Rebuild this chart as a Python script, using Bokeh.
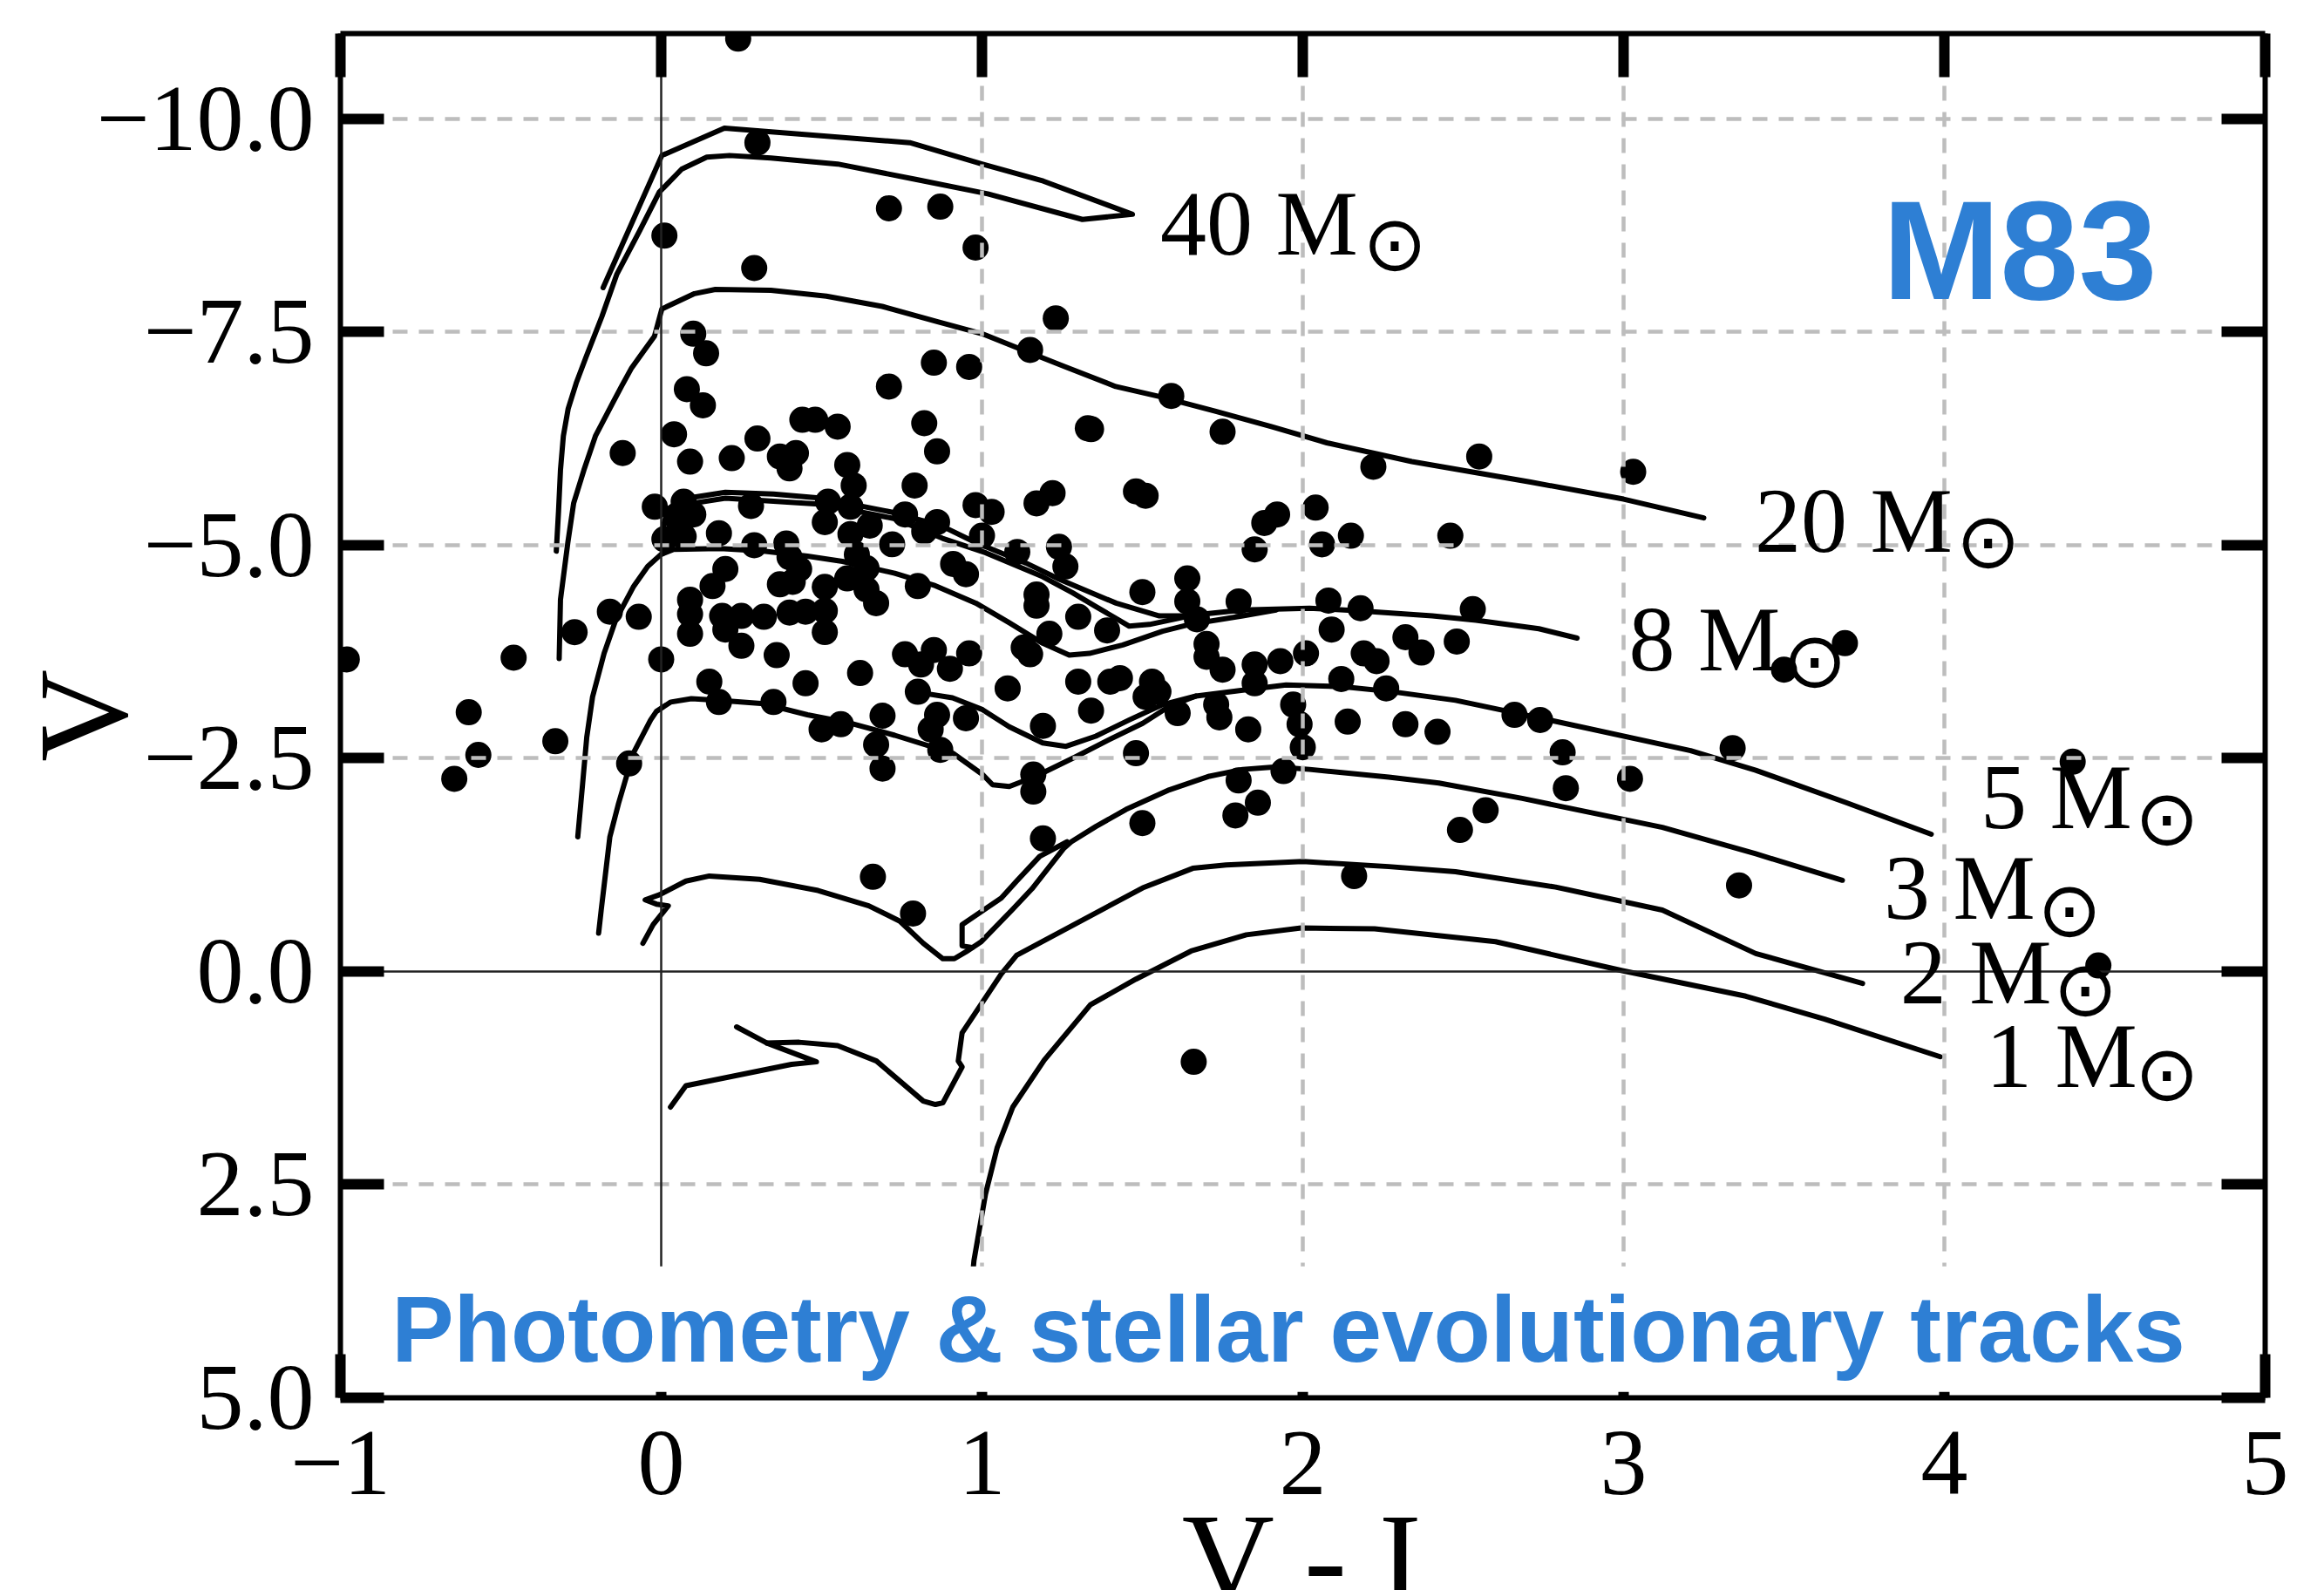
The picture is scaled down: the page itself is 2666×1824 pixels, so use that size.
import math
from bokeh.plotting import figure
from bokeh.models import Range1d, LinearAxis, FixedTicker, Span, Label
from bokeh.embed import file_html
from bokeh.resources import INLINE

# ---------------- data ----------------
x_ticks = [-1, 0, 1, 2, 3, 4, 5]
x_tick_labels = ["\u22121", "0", "1", "2", "3", "4", "5"]
y_ticks = [-10, -7.5, -5, -2.5, 0, 2.5, 5]
y_tick_labels = ["\u221210.0", "\u22127.5", "\u22125.0", "\u22122.5", "0.0", "2.5", "5.0"]

star_vi = [0.24, 0.30, 0.01, 0.71, 0.87, 0.98, 0.29, 1.23, 0.10, 0.14, 1.15, 0.85, 0.96, 0.08, 0.71,
           0.13, 1.59, -0.12, 0.04, 0.30, 0.44, 0.48, 0.55, 0.82, 0.86, 0.22, 0.09, 0.37, 0.42, 0.40,
           1.33, 1.34, 1.75, 0.58, 0.60, 0.79, 2.22, 2.55, 1.48, 1.51, 1.22, 1.17, -0.02, 0.07, 1.92,
           1.88, 2.04, 0.98, 1.03, 0.28, 0.05, 0.10, 0.52, 0.51, 0.59, 0.76, 0.86, 0.82, 0.59, 0.65,
           0.01, 0.07, 0.18, 0.29, 0.39, 0.72, 1.00, 1.85, 2.06, 2.15, 2.46, 1.11, 1.24, 1.26, 0.61,
           0.64, 0.40, 0.43, 0.20, 0.91, 0.95, 0.16, 0.37, 0.41, 0.51, 0.58, 0.64, 0.80, 1.17, 1.17,
           1.50, 1.64, 1.64, 1.80, 2.08, 2.18, 2.53, -0.16, -0.07, 0.09, 0.09, 0.09, 0.19, 0.20, 0.25,
           0.25, 0.32, 0.40, 0.45, 0.51, 0.51, 0.36, 0.67, 1.30, 1.39, 1.67, 1.21, 2.09, 2.32, 2.48,
           1.70, 1.70, 1.75, 1.85, 1.85, 1.93, 2.01, 2.19, 2.23, 2.37, 0.00, 0.76, 0.85, 0.81, 0.90,
           0.96, 1.13, 1.15, 0.45, 0.62, 1.08, 1.30, 1.40, 1.43, 1.53, 1.51, 1.55, 1.34, 1.61, 1.73,
           1.74, 1.83, 1.97, 1.99, 2.00, 2.14, 2.32, 2.42, 1.48, 0.15, 0.18, 0.35, 0.50, 0.56, 0.69,
           0.67, 0.69, 0.80, 0.86, 0.84, 0.95, 0.87, 1.19, 1.16, -0.10, 2.26, 2.12,
           -0.98, -0.46, -0.60, -0.57, -0.645, -0.33, -0.27,
           1.16, 1.19, 1.50, 1.80, 1.94, 1.86, 1.79, 2.49, 2.57, 2.16, 0.66, 0.785, 1.66,
           3.50, 3.69, 2.66, 2.74, 2.81, 2.82, 3.02, 3.34, 3.36, 4.40, 4.48, 3.03]
star_v = [-10.94, -9.72, -8.63, -8.95, -8.97, -8.49, -8.25, -7.66, -7.48, -7.25, -7.29, -7.14, -7.09, -6.83, -6.86,
          -6.64, -6.75, -6.08, -6.30, -6.25, -6.47, -6.47, -6.39, -6.43, -6.10, -6.02, -5.98, -6.04, -6.08, -5.90,
          -6.37, -6.36, -6.33, -5.94, -5.70, -5.70, -5.92, -6.04, -5.63, -5.58, -5.61, -5.49, -5.45, -5.51, -5.36,
          -5.26, -5.44, -5.47, -5.39, -5.46, -5.31, -5.36, -5.51, -5.27, -5.45, -5.36, -5.27, -5.16, -5.13, -5.23,
          -5.07, -5.10, -5.14, -5.00, -5.02, -5.01, -5.11, -4.95, -5.01, -5.11, -5.11, -4.92, -4.98, -4.75, -4.89,
          -4.73, -4.86, -4.72, -4.72, -4.78, -4.66, -4.52, -4.54, -4.57, -4.51, -4.61, -4.48, -4.52, -4.42, -4.29,
          -4.45, -4.61, -4.34, -4.34, -4.35, -4.26, -4.25, -4.22, -4.16, -4.36, -4.19, -3.96, -4.17, -4.01, -4.17,
          -3.82, -4.16, -4.21, -4.22, -4.23, -3.98, -3.71, -4.32, -4.16, -4.00, -4.13, -3.96, -4.01, -3.92, -3.87,
          -3.84, -3.69, -3.54, -3.60, -3.38, -3.64, -3.73, -3.73, -3.64, -3.74, -3.66, -3.72, -3.77, -3.60, -3.55,
          -3.73, -3.80, -3.72, -3.38, -3.50, -3.32, -3.40, -3.40, -3.44, -3.40, -3.22, -3.28, -3.06, -3.03, -3.13,
          -2.98, -2.84, -3.13, -2.90, -2.63, -2.93, -2.90, -2.81, -2.56, -3.40, -3.16, -3.16, -2.84, -2.90, -3.00,
          -2.66, -2.38, -3.28, -3.01, -2.84, -2.97, -2.60, -2.88, -2.31, -2.44, -3.32, -3.43,
          -3.66, -3.68, -3.04, -2.54, -2.26, -2.70, -3.98,
          -2.11, -1.56, -1.74, -2.24, -2.35, -1.98, -1.83, -1.66, -1.89, -1.12, -1.11, -0.68, 1.06,
          -3.54, -3.85, -3.01, -2.95, -2.57, -2.15, -2.26, -2.62, -1.01, -2.46, -0.07, -5.86]

track_40_vi = [-0.327, -0.32, -0.314, -0.305, -0.29, -0.265, -0.235, -0.185, -0.138, -0.068, -0.006,
               0.064, 0.142, 0.213, 0.342, 0.55, 0.793, 1.018, 1.313, 1.469, 1.191, 1.0, 0.775,
               0.197, 0.002, -0.181]
track_40_v = [-4.93, -5.4, -5.88, -6.28, -6.6, -6.9, -7.2, -7.68, -8.18, -8.68, -9.14,
              -9.41, -9.55, -9.57, -9.54, -9.47, -9.29, -9.12, -8.82, -8.88, -9.27, -9.47, -9.72,
              -9.89, -9.57, -8.02]

track_20_vi = [-0.318, -0.314, -0.291, -0.273, -0.241, -0.205, -0.151, -0.124, -0.092, -0.052, -0.021,
               0.002, 0.104, 0.169, 0.342, 0.515, 0.689, 0.862, 1.0, 1.139, 1.261, 1.417, 1.556,
               1.729, 1.902, 2.075, 2.34, 2.71, 3.0, 3.25]
track_20_v = [-3.67, -4.36, -5.03, -5.49, -5.88, -6.28, -6.67, -6.86, -7.08, -7.29, -7.45,
              -7.77, -7.95, -8.0, -7.99, -7.92, -7.80, -7.62, -7.48, -7.27, -7.09, -6.86, -6.74,
              -6.57, -6.39, -6.2, -5.98, -5.74, -5.54, -5.32]

track_8a_vi = [0.0, 0.02, 0.065, 0.2, 0.35, 0.5, 0.728, 0.877, 0.981, 1.137, 1.241, 1.418, 1.553,
               1.636, 1.813, 2.021, 2.177, 2.404, 2.54, 2.736, 2.855]
track_8a_v = [-5.12, -5.42, -5.54, -5.62, -5.6, -5.55, -5.38, -5.22, -5.03, -4.79, -4.6, -4.32, -4.17,
              -4.17, -4.24, -4.26, -4.23, -4.17, -4.12, -4.02, -3.91]
track_8b_vi = [0.065, 0.2, 0.5, 0.728, 0.877, 1.012, 1.189, 1.283, 1.355, 1.459, 1.522, 1.647]
track_8b_v = [-5.47, -5.55, -5.48, -5.31, -5.08, -4.91, -4.63, -4.44, -4.28, -4.05, -4.07, -4.17]

track_mid_vi = [-0.26, -0.245, -0.232, -0.214, -0.178, -0.142, -0.087, -0.042, -0.001, 0.039, 0.184,
                0.32, 0.456, 0.565, 0.728, 0.85, 0.981, 1.085, 1.189, 1.272, 1.335, 1.439, 1.563,
                1.647, 1.813, 1.917]
track_mid_v = [-1.58, -2.2, -2.75, -3.22, -3.73, -4.12, -4.51, -4.75, -4.89, -4.95, -4.96,
               -4.93, -4.87, -4.81, -4.67, -4.53, -4.32, -4.09, -3.85, -3.71, -3.73, -3.83, -3.99,
               -4.07, -4.17, -4.24]

track_5_vi = [-0.195, -0.187, -0.16, -0.133, -0.087, -0.033, -0.015, 0.03, 0.094, 0.184, 0.32, 0.456,
              0.592, 0.728, 0.909, 1.002, 1.033, 1.085, 1.168, 1.293, 1.397, 1.501, 1.584, 1.667,
              1.813, 1.948, 2.125, 2.281, 2.476, 2.767, 3.209, 3.412, 3.694, 3.959]
track_5_v = [-0.45, -0.72, -1.58, -1.97, -2.56, -2.95, -3.05, -3.16, -3.20, -3.18, -3.14, -3.01,
             -2.91, -2.77, -2.56, -2.31, -2.19, -2.17, -2.29, -2.52, -2.72, -2.91, -3.11, -3.23,
             -3.30, -3.36, -3.34, -3.28, -3.18, -2.95, -2.59, -2.36, -1.98, -1.61]
track_5_loop_vi = [0.79, 0.908, 1.002, 1.085, 1.189, 1.262, 1.355, 1.459, 1.563, 1.667]
track_5_loop_v = [-3.28, -3.21, -3.07, -2.87, -2.68, -2.64, -2.76, -2.95, -3.13, -3.23]

track_3_vi = [-0.057, -0.025, 0.022, -0.015, -0.05, -0.005, 0.077, 0.15, 0.307, 0.489, 0.647, 0.744,
              0.817, 0.878, 0.914, 0.95, 0.998, 1.096, 1.156, 1.254, 1.278, 1.355, 1.449, 1.584,
              1.709, 1.813, 1.917, 2.021, 2.268, 2.424, 2.684, 3.121, 3.412, 3.682]
track_3_v = [-0.33, -0.55, -0.77, -0.79, -0.84, -0.90, -1.06, -1.12, -1.08, -0.95, -0.77, -0.59,
             -0.33, -0.15, -0.15, -0.23, -0.35, -0.73, -0.97, -1.44, -1.52, -1.70, -1.90, -2.13,
             -2.29, -2.37, -2.40, -2.37, -2.28, -2.21, -2.03, -1.69, -1.38, -1.07]
track_3_loop_vi = [0.969, 0.938, 0.938, 1.06, 1.108, 1.18, 1.265]
track_3_loop_v = [-0.28, -0.30, -0.55, -0.86, -1.06, -1.35, -1.52]

track_2_hook_vi = [0.029, 0.077, 0.406, 0.484, 0.33, 0.235]
track_2_hook_v = [1.59, 1.34, 1.09, 1.06, 0.84, 0.65]
track_2_vi = [0.33, 0.43, 0.55, 0.671, 0.817, 0.855, 0.878, 0.938, 0.926, 0.938, 1.06, 1.108, 1.501,
              1.657, 1.761, 2.0, 2.268, 2.476, 2.788, 3.121, 3.412, 3.745]
track_2_v = [0.84, 0.83, 0.87, 1.05, 1.52, 1.56, 1.54, 1.12, 1.05, 0.72, 0.03, -0.19, -0.98,
             -1.21, -1.25, -1.29, -1.23, -1.17, -0.99, -0.72, -0.21, 0.14]

track_1_vi = [0.96, 0.975, 1.011, 1.047, 1.096, 1.194, 1.338, 1.48, 1.652, 1.824, 1.995, 2.224,
              2.601, 2.996, 3.381, 3.627, 3.987]
track_1_v = [4.0, 3.39, 2.61, 2.07, 1.59, 1.04, 0.39, 0.09, -0.24, -0.43, -0.51, -0.50,
             -0.35, -0.01, 0.29, 0.56, 1.0]

track_names = ["40", "20", "8", "5", "3", "2", "1"]
# label anchors: text left edge / baseline, and solar symbol centre
label_text_x = [1.556, 3.409, 3.016, 4.113, 3.811, 3.862, 4.129]
label_text_y = [-8.77, -5.28, -3.89, -2.04, -0.98, 0.01, 0.99]
sun_x = [2.287, 4.137, 3.596, 4.694, 4.39, 4.44, 4.694]
sun_y = [-8.54, -5.05, -3.65, -1.80, -0.73, 0.21, 1.20]

# ---------------- figure ----------------
p = figure(frame_width=2208, frame_height=1565, x_range=Range1d(-1, 5), y_range=Range1d(5, -11),
           output_backend="svg", toolbar_location=None,
           min_border_left=390, min_border_right=52, min_border_top=38, min_border_bottom=205)
p.outline_line_color = None
p.background_fill_color = "white"
p.border_fill_color = "white"

SERIF = "Liberation Serif"
BLUE = "#2e7fd4"


def style_axis(ax, labels=True, standoff=5):
    ax.level = "annotation"
    ax.major_tick_in = 50
    ax.major_tick_out = 0
    ax.minor_tick_in = 0
    ax.minor_tick_out = 0
    ax.major_tick_line_width = 12
    ax.major_tick_line_color = "black"
    ax.axis_line_width = 6
    ax.axis_line_color = "black"
    ax.major_label_text_font = SERIF
    ax.major_label_standoff = standoff
    ax.axis_label_text_font = SERIF
    ax.axis_label_text_font_style = "normal"
    ax.axis_label_text_font_size = "147px"
    ax.axis_label_text_color = "black"
    if labels:
        ax.major_label_text_font_size = "108px"
        ax.major_label_text_color = "black"
    else:
        ax.major_label_text_font_size = "0px"
        ax.major_label_text_color = None


xax = p.xaxis[0]
xax.ticker = FixedTicker(ticks=x_ticks)
xax.major_label_overrides = dict(zip(x_ticks, x_tick_labels))
style_axis(xax, True, 39)
xax.axis_label = "V - I"
xax.axis_label_standoff = -11

yax = p.yaxis[0]
yax.ticker = FixedTicker(ticks=y_ticks)
yax.major_label_overrides = dict(zip(y_ticks, y_tick_labels))
style_axis(yax, True, 30)
yax.axis_label = "V"
yax.axis_label_standoff = -69

top_ax = LinearAxis(ticker=FixedTicker(ticks=x_ticks))
style_axis(top_ax, False)
p.add_layout(top_ax, "above")
right_ax = LinearAxis(ticker=FixedTicker(ticks=y_ticks))
style_axis(right_ax, False)
p.add_layout(right_ax, "right")

for g, t in ((p.xgrid[0], [1, 2, 3, 4]), (p.ygrid[0], [-10, -7.5, -5, -2.5, 2.5])):
    g.ticker = FixedTicker(ticks=t)
    g.grid_line_color = "#bdbdbd"
    g.grid_line_width = 4.5
    g.grid_line_dash = "17 13"
    g.level = "guide"

for dim in ("height", "width"):
    s = Span(location=0, dimension=dim, line_color="#222222", line_width=2.5)
    s.level = "guide"
    p.add_layout(s)

# tracks
tracks = [(track_40_vi, track_40_v), (track_20_vi, track_20_v), (track_8a_vi, track_8a_v),
          (track_8b_vi, track_8b_v), (track_mid_vi, track_mid_v), (track_5_vi, track_5_v),
          (track_5_loop_vi, track_5_loop_v), (track_3_vi, track_3_v),
          (track_3_loop_vi, track_3_loop_v), (track_2_hook_vi, track_2_hook_v),
          (track_2_vi, track_2_v), (track_1_vi, track_1_v)]
for tx, ty in tracks:
    p.line(tx, ty, line_color="black", line_width=6, line_join="round", line_cap="round")

# stars
p.scatter(star_vi, star_v, size=30, fill_color="black", line_color="black", line_width=0)

# track labels
for name, tx, ty, sx, sy in zip(track_names, label_text_x, label_text_y, sun_x, sun_y):
    p.add_layout(Label(x=tx, y=ty, text=f"{name} M", text_font=SERIF, text_font_size="106px",
                       text_align="left", text_baseline="alphabetic", text_color="black"))
    p.add_layout(Label(x=sx, y=sy, text="\u2299", text_font="DejaVu Sans", text_font_size="88px",
                       text_align="center", text_baseline="middle", text_color="black"))

# blue annotations
p.add_layout(Label(x=4.235, y=-8.46, text="M83", text_font="Liberation Sans",
                   text_font_style="bold", text_font_size="162px", text_color=BLUE,
                   text_align="center", text_baseline="alphabetic"))
sub = Label(x=1.955, y=4.194, text="Photometry & stellar evolutionary tracks",
            text_font="Liberation Sans", text_font_style="bold", text_font_size="107px",
            text_color=BLUE, text_align="center", text_baseline="alphabetic",
            background_fill_color="white", background_fill_alpha=1.0, padding=12)
sub.level = "overlay"
p.add_layout(sub)

open("out.html", "w").write(file_html(p, INLINE))
